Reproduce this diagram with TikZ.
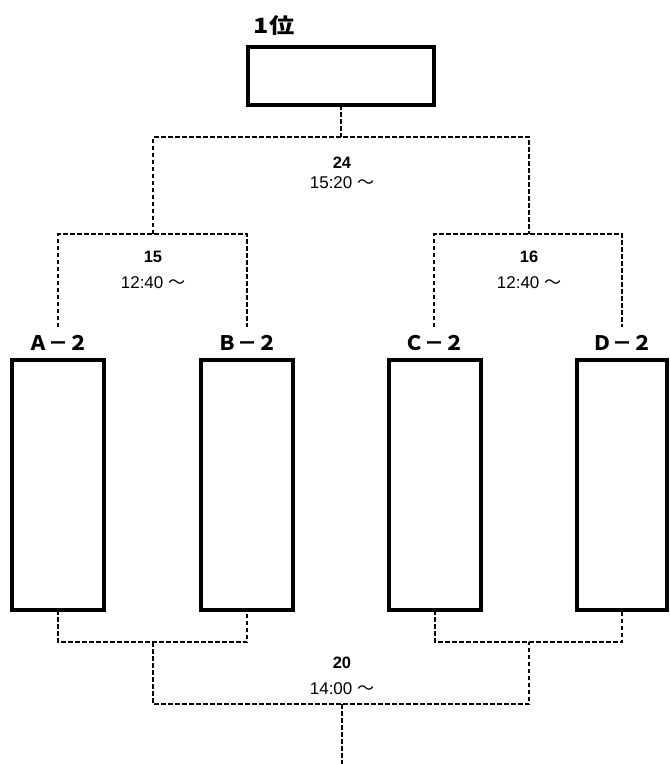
\documentclass[tikz,border=0pt]{standalone}
\usepackage{fontspec}
\setmainfont{Liberation Sans}
\newfontfamily\jp{Noto Sans CJK JP}
\newfontfamily\jpwide{Noto Sans CJK JP}[FakeStretch=1.2]
\begin{document}
\begin{tikzpicture}[x=1pt,y=-1pt,
  box/.style={draw,line width=3.6pt,inner sep=0pt,outer sep=0pt},
  dl/.style={line width=1.5pt,dash pattern=on 4.5pt off 2.5pt},
  lbl/.style={inner sep=0pt,anchor=base,font=\jp\bfseries\fontsize{20}{20}\selectfont},
  num/.style={inner sep=0pt,anchor=base,font=\bfseries\fontsize{16.5}{16.5}\selectfont},
  tim/.style={inner sep=0pt,anchor=base,font=\fontsize{17}{17}\selectfont}]
\useasboundingbox (0,0) rectangle (670,764);
% boxes
\node[box,minimum width=186pt,minimum height=58pt] (top) at (341,76) {};
\node[box,minimum width=92pt,minimum height=250pt] (a) at (58,485) {};
\node[box,minimum width=92pt,minimum height=250pt] (b) at (247,485) {};
\node[box,minimum width=92pt,minimum height=250pt] (c) at (435,485) {};
\node[box,minimum width=90pt,minimum height=250pt] (d) at (622,485) {};
% labels
\node[lbl,font=\jpwide\bfseries\fontsize{21}{21}\selectfont] (ltop) at (274,33) {1位};
\node[lbl] (la) at (58,350) {Ａ－２};
\node[lbl] (lb) at (247,350) {Ｂ－２};
\node[lbl] (lc) at (434,350) {Ｃ－２};
\node[lbl] (ld) at (622,350) {Ｄ－２};
% match numbers and times
\node[num] (n24) at (342,168) {24};
\node[tim] (t24) at (342,188) {15:20 {\jp ～}};
\node[num] (n15) at (153,262) {15};
\node[tim] (t15) at (153,288) {12:40 {\jp ～}};
\node[num] (n16) at (529,262) {16};
\node[tim] (t16) at (529,288) {12:40 {\jp ～}};
\node[num] (n20) at (342,668) {20};
\node[tim] (t20) at (342,694) {14:00 {\jp ～}};
% coordinates
\coordinate (m24) at (341,137);
\coordinate (q15) at (153,234);
\coordinate (q16) at (529,234);
\coordinate (ta) at (58,327);
\coordinate (tb) at (247,327);
\coordinate (tc) at (434,327);
\coordinate (td) at (622,327);
\coordinate (r1) at (153,642);
\coordinate (r2) at (529,642);
\coordinate (m20) at (342,704);
\coordinate (bot) at (342,764);
% connectors
\draw[dl] (top.south) -- (m24);
\draw[dl] (q15) |- (m24) -| (q16);
\draw[dl] (ta) |- (q15) -| (tb);
\draw[dl] (tc) |- (q16) -| (td);
\draw[dl] (a.south) |- (r1) -| (b.south);
\draw[dl] (c.south) |- (r2) -| (d.south);
\draw[dl] (r1) |- (m20) -| (r2);
\draw[dl] (m20) -- (bot);
\end{tikzpicture}
\end{document}
